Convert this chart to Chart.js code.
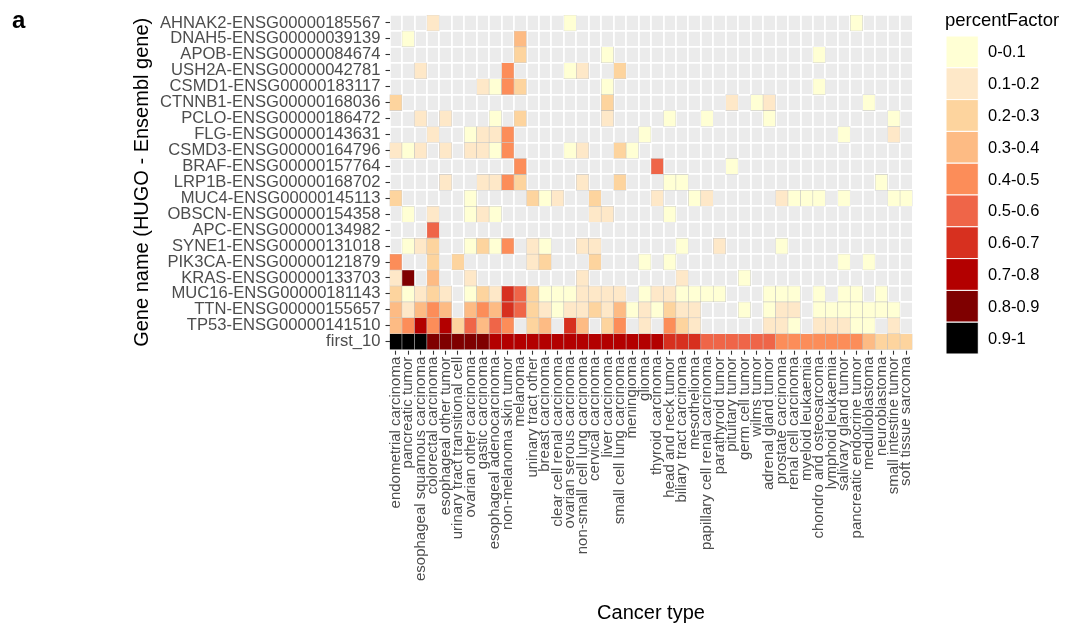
<!DOCTYPE html>
<html lang="en">
<head>
<meta charset="UTF-8">
<title>Gene mutation frequency by cancer type</title>
<script src="https://cdn.jsdelivr.net/npm/chart.js"></script>
<style>
  html, body { margin: 0; padding: 0; background: #fff; }
  #wrap { width: 1077px; height: 628px; position: relative; }
</style>
</head>
<body>
<div id="wrap"><canvas id="chart"></canvas></div>
<script>
// cancer types along the x axis
const cancerTypes = [
  'endometrial carcinoma', 'pancreatic tumor', 'esophageal squamous carcinoma', 'colorectal carcinoma',
  'esophageal other tumor', 'urinary tract transitional cell', 'ovarian other carcinoma', 'gastic carcinoma',
  'esophageal adenocarcinoma', 'non-melanoma skin tumor', 'melanoma', 'uninary tract other',
  'breast carcinoma', 'clear cell renal carcinoma', 'ovarian serous carcinoma', 'non-small cell lung carcinoma',
  'cervical carcinoma', 'liver carcinoma', 'small cell lung carcinoma', 'meningioma', 'glioma',
  'thyroid carcinoma', 'head and neck tumor', 'biliary tract carcinoma', 'mesothelioma',
  'papillary cell renal carcinoma', 'parathyroid tumor', 'pituitary tumor', 'germ cell tumor', 'wilms tumor',
  'adrenal gland tumor', 'prostate carcinoma', 'renal cell carcinoma', 'myeloid leukaemia',
  'chondro and osteosarcoma', 'lymphoid leukaemia', 'salivary gland tumor', 'pancreatic endocrine tumor',
  'medulloblastoma', 'neuroblastoma', 'small intestine tumor', 'soft tissue sarcoma'
];

// genes, top row first
const genes = [
  'AHNAK2-ENSG00000185567', 'DNAH5-ENSG00000039139', 'APOB-ENSG00000084674', 'USH2A-ENSG00000042781',
  'CSMD1-ENSG00000183117', 'CTNNB1-ENSG00000168036', 'PCLO-ENSG00000186472', 'FLG-ENSG00000143631',
  'CSMD3-ENSG00000164796', 'BRAF-ENSG00000157764', 'LRP1B-ENSG00000168702', 'MUC4-ENSG00000145113',
  'OBSCN-ENSG00000154358', 'APC-ENSG00000134982', 'SYNE1-ENSG00000131018', 'PIK3CA-ENSG00000121879',
  'KRAS-ENSG00000133703', 'MUC16-ENSG00000181143', 'TTN-ENSG00000155657', 'TP53-ENSG00000141510', 'first_10'
];

// percentFactor per cancer type (0 = no tile)
const AHNAK2 = [0,0,0,.15,0,0,0,0,0,0,  0,0,0,0,.05,0,0,0,0,0,  0,0,0,0,0,0,0,0,0,0,  0,0,0,0,0,0,0,.05,0,0,  0,0];
const DNAH5  = [0,.05,0,0,0,0,0,0,0,0,  .35,0,0,0,0,0,0,0,0,0,  0,0,0,0,0,0,0,0,0,0,  0,0,0,0,0,0,0,0,0,0,  0,0];
const APOB   = [0,0,0,0,0,0,0,0,0,0,  .25,0,0,0,0,0,0,.05,0,0,  0,0,0,0,0,0,0,0,0,0,  0,0,0,0,.05,0,0,0,0,0,  0,0];
const USH2A  = [0,0,.15,0,0,0,0,0,0,.45,  0,0,0,0,.05,.15,0,0,.25,0,  0,0,0,0,0,0,0,0,0,0,  0,0,0,0,0,0,0,0,0,0,  0,0];
const CSMD1  = [0,0,0,0,0,0,0,.15,.05,.45,  .25,0,0,0,0,0,0,.05,0,0,  0,0,0,0,0,0,0,0,0,0,  0,0,0,0,.05,0,0,0,0,0,  0,0];
const CTNNB1 = [.25,0,0,0,0,0,0,0,0,0,  0,0,0,0,0,0,0,.25,0,0,  0,0,0,0,0,0,0,.15,0,.05,  .15,0,0,0,0,0,0,0,.05,0,  0,0];
const PCLO   = [0,0,.15,0,.15,0,0,0,.05,0,  .25,0,0,0,0,0,0,.15,0,0,  0,0,.05,0,0,.05,0,0,0,0,  .05,0,0,0,0,0,0,0,0,0,  .05,0];
const FLG    = [0,0,0,.15,0,0,.05,.15,.15,.45,  0,0,0,0,0,0,0,0,0,0,  .05,0,0,0,0,0,0,0,0,0,  0,0,0,0,0,0,.05,0,0,0,  .15,0];
const CSMD3  = [.15,.05,.15,0,.15,0,.15,.15,.05,.45,  0,0,0,0,.05,.15,0,0,.25,.05,  0,0,0,0,0,0,0,0,0,0,  0,0,0,0,0,0,0,0,0,0,  0,0];
const BRAF   = [0,0,0,0,0,0,0,0,0,0,  .45,0,0,0,0,0,0,0,0,0,  0,.55,0,0,0,0,0,.05,0,0,  0,0,0,0,0,0,0,0,0,0,  0,0];
const LRP1B  = [0,0,0,0,.15,0,0,.15,.15,.45,  .25,0,0,0,0,.15,0,0,.25,0,  0,0,.05,.05,0,0,0,0,0,0,  0,0,0,0,0,0,0,0,0,.05,  0,0];
const MUC4   = [.25,0,0,0,0,0,.05,0,0,0,  0,.25,.05,.15,0,0,.25,0,0,0,  0,.15,0,0,.05,.15,0,0,0,0,  0,.15,.05,.05,.05,0,.05,0,0,0,  .05,.05];
const OBSCN  = [0,.05,0,.15,0,0,.05,.15,.05,0,  0,0,0,0,0,0,.15,.15,0,0,  0,0,.05,0,0,0,0,0,0,0,  0,0,0,0,0,0,0,0,0,0,  0,0];
const APC    = [0,0,0,.55,0,0,0,0,0,0,  0,0,0,0,0,0,0,0,0,0,  0,0,0,0,0,0,0,0,0,0,  0,0,0,0,0,0,0,0,0,0,  0,0];
const SYNE1  = [0,.05,.15,.25,0,0,.05,.25,.05,.45,  0,.15,.05,0,0,.15,.15,0,0,0,  0,0,0,.05,0,0,.15,0,0,0,  0,.05,0,0,0,0,0,0,0,0,  0,0];
const PIK3CA = [.45,0,0,.25,0,.25,0,0,0,0,  0,.15,.25,0,0,0,.25,0,0,0,  .05,0,.05,0,0,0,0,0,0,0,  0,0,0,0,0,0,.05,0,.05,0,  0,0];
const KRAS   = [.15,.85,0,.35,0,0,.15,0,0,0,  0,0,0,0,0,.15,0,0,0,0,  0,0,0,.15,0,0,0,0,.05,0,  0,0,0,0,0,0,0,0,0,0,  0,0];
const MUC16  = [.25,.05,.15,.25,.15,0,.05,.25,.15,.65,  .55,.25,.05,.05,.05,.15,.15,.15,.15,0,  .05,.15,.15,.05,.05,.05,.05,0,0,0,  .05,.05,.05,0,.05,0,.05,.05,0,.05,  0,0];
const TTN    = [.35,.15,.35,.45,.35,0,.35,.45,.35,.65,  .55,.25,.15,.05,.15,.15,.25,.15,.35,.05,  .15,.05,.25,.15,.15,0,0,0,.05,0,  .05,.15,.15,0,.05,.05,.05,.05,.05,.05,  .05,0];
const TP53   = [.35,.45,.75,.45,.75,.25,.55,.35,.55,.45,  0,.25,.35,0,.65,.35,0,.25,.45,0,  .15,0,.45,.25,.15,0,0,0,0,0,  .15,.15,.05,0,.15,.15,.15,.05,.05,0,  .15,0];
const first_10 = [.95,.95,.95,.85,.85,.85,.85,.85,.75,.75,  .75,.75,.75,.75,.75,.75,.75,.75,.75,.75,  .75,.75,.65,.65,.65,.55,.55,.55,.55,.55,  .55,.45,.45,.45,.45,.45,.45,.45,.35,.25,  .25,.25];

const tiles = [AHNAK2, DNAH5, APOB, USH2A, CSMD1, CTNNB1, PCLO, FLG, CSMD3, BRAF, LRP1B,
  MUC4, OBSCN, APC, SYNE1, PIK3CA, KRAS, MUC16, TTN, TP53, first_10];

// legend bins
const binLabels = ['0-0.1', '0.1-0.2', '0.2-0.3', '0.3-0.4', '0.4-0.5', '0.5-0.6', '0.6-0.7', '0.7-0.8', '0.8-0.9', '0.9-1'];
const binColors = ['#FFFFD4', '#FEE8C8', '#FDD49E', '#FDBB84', '#FC8D59', '#EF6548', '#D7301F', '#B30000', '#7F0000', '#000000'];

function binColor(v) {
  return binColors[Math.min(9, Math.floor(v * 10))];
}

const FONT = '"Liberation Sans", Arial, Helvetica, sans-serif';

const datasets = genes.map((g, r) => ({
  label: g,
  data: tiles[r].map(v => v > 0 ? [r - 0.5, r + 0.5] : null),
  backgroundColor: ctx => binColor(tiles[r][ctx.dataIndex]),
  borderColor: 'rgba(120,120,120,0.35)',
  borderWidth: 0.6,
  borderSkipped: false,
  grouped: false,
  categoryPercentage: 1,
  barPercentage: 1,
  xAxisID: 'x',
  yAxisID: 'y'
}));

// grey panel + "a" panel tag + stepped legend
const panelPlugin = {
  id: 'panel',
  beforeDraw(chart) {
    const {ctx, chartArea: a} = chart;
    ctx.save();
    ctx.fillStyle = '#fff';
    ctx.fillRect(0, 0, chart.width, chart.height);
    ctx.fillStyle = '#EBEBEB';
    ctx.fillRect(a.left, a.top, a.right - a.left, a.bottom - a.top);
    ctx.restore();
  },
  afterDraw(chart) {
    const ctx = chart.ctx;
    ctx.save();
    ctx.fillStyle = '#000';
    ctx.textBaseline = 'middle';
    ctx.font = 'bold 24px ' + FONT;
    ctx.fillText('a', 12, 21);

    ctx.font = '18.5px ' + FONT;
    ctx.fillText('percentFactor', 945, 21);

    const x0 = 946, y0 = 36, w = 32.3, h = 31.8;
    ctx.font = '16.5px ' + FONT;
    binColors.forEach((c, i) => {
      const y = y0 + i * h;
      ctx.fillStyle = c;
      ctx.fillRect(x0, y, w, h);
      ctx.strokeStyle = '#fff';
      ctx.lineWidth = 1;
      ctx.strokeRect(x0, y, w, h);
      ctx.fillStyle = '#000';
      ctx.fillText(binLabels[i], 988, y + h / 2 + 1);
    });
    ctx.restore();
  }
};

new Chart(document.getElementById('chart'), {
  type: 'bar',
  data: { labels: cancerTypes, datasets: datasets },
  options: {
    responsive: true,
    maintainAspectRatio: false,
    animation: false,
    events: [],
    layout: { padding: { top: 9.3, right: 164.5, left: 0, bottom: 0 } },
    plugins: { legend: { display: false }, tooltip: { enabled: false } },
    scales: {
      x: {
        type: 'category',
        offset: true,
        border: { display: false },
        grid: { drawOnChartArea: false, offset: false, tickLength: 5, tickColor: '#333', tickWidth: 1.1 },
        ticks: { autoSkip: false, minRotation: 90, maxRotation: 90, padding: 2, color: '#4D4D4D', font: { family: FONT, size: 15 } },
        title: { display: true, text: 'Cancer type', color: '#000', font: { family: FONT, size: 20 }, padding: { top: 0, bottom: 3 } },
        afterFit: s => { s.height = 278.3; }
      },
      xGrid: {
        type: 'category',
        position: 'bottom',
        offset: true,
        border: { display: false },
        grid: { offset: true, color: '#fff', lineWidth: 1.8, drawTicks: false },
        ticks: { display: false },
        afterFit: s => { s.height = 0; }
      },
      y: {
        type: 'linear',
        reverse: true,
        min: -0.5,
        max: 20.5,
        border: { display: false },
        afterBuildTicks: s => { s.ticks = genes.map((g, i) => ({ value: i })); },
        grid: { drawOnChartArea: false, tickLength: 4, tickColor: '#333', tickWidth: 1.1 },
        ticks: { autoSkip: false, padding: 5, color: '#4D4D4D', font: { family: FONT, size: 16.6 }, callback: v => genes[v] },
        title: { display: true, text: 'Gene name (HUGO - Ensembl gene)', color: '#000', font: { family: FONT, size: 20 }, padding: { top: 130, bottom: 0 } },
        afterFit: s => { s.width = 389.5; }
      },
      yGrid: {
        type: 'linear',
        position: 'left',
        reverse: true,
        min: -0.5,
        max: 20.5,
        border: { display: false },
        afterBuildTicks: s => { s.ticks = genes.concat(['']).map((g, i) => ({ value: i - 0.5 })); },
        grid: { color: '#fff', lineWidth: 1.8, drawTicks: false },
        ticks: { display: false },
        afterFit: s => { s.width = 0; }
      }
    }
  },
  plugins: [panelPlugin]
});
</script>
</body>
</html>
